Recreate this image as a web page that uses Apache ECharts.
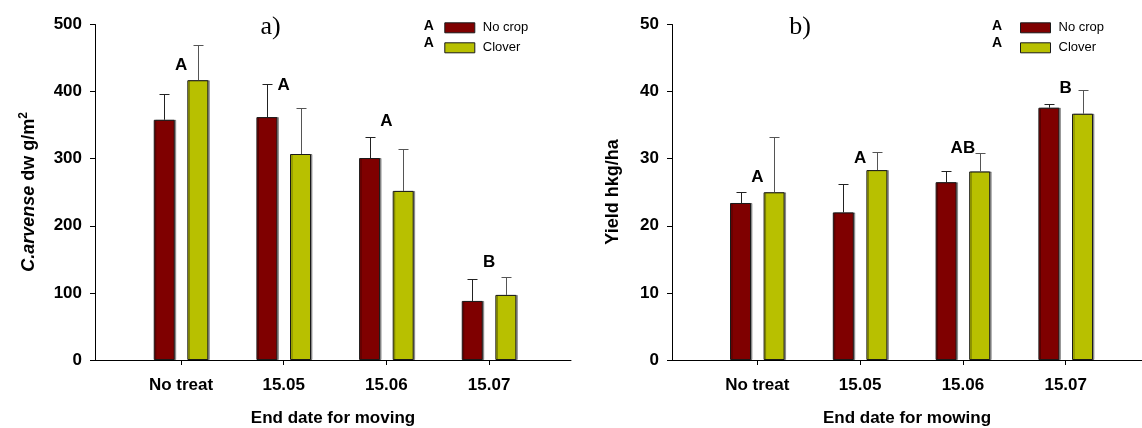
<!DOCTYPE html>
<html><head><meta charset="utf-8">
<script src="https://cdn.jsdelivr.net/npm/echarts@6/dist/echarts.min.js"></script>
<style>html,body{margin:0;padding:0;background:#fff}#c{width:1142px;height:428px}</style>
</head><body><div id="c"></div>
<script>
// ---------- data ----------
const categories = ['No treat', '15.05', '15.06', '15.07'];
const seriesNames = ['No crop', 'Clover'];
// chart a) C. arvense dw g/m2
const aNoCrop = [358, 362, 301, 88];
const aNoCropErr = [38, 49, 31, 32];
const aClover = [417, 307, 252, 97];
const aCloverErr = [53, 68, 63, 26];
const aLetters = ['A', 'A', 'A', 'B'];
const aLetterY = [439, 409, 355, 146];
const aTicks = [0, 100, 200, 300, 400, 500];
// chart b) Yield hkg/ha
const bNoCrop = [23.4, 22.0, 26.5, 37.6];
const bNoCropErr = [1.6, 4.2, 1.6, 0.5];
const bClover = [25.0, 28.3, 28.1, 36.7];
const bCloverErr = [8.3, 2.7, 2.8, 3.5];
const bLetters = ['A', 'A', 'AB', 'B'];
const bLetterY = [27.3, 30.0, 31.5, 40.5];
const bTicks = [0, 10, 20, 30, 40, 50];

// ---------- styles ----------
const FONT = 'Liberation Sans, Arial, sans-serif';
const RED = '#7f0000', OLIVE = '#b8c000';
const BAR_W = 21, BAR_GAP = 0.6;
const OFF = (BAR_W + BAR_W * BAR_GAP) / 2;
const TOP = 24.5, H = 335.5;

function errSeries(idx, means, errs, side, color) {
  return {
    type: 'custom', xAxisIndex: idx, yAxisIndex: idx, z: 5,
    data: means.map((m, i) => [i, m, m + errs[i]]),
    renderItem: function (params, api) {
      const b = api.coord([api.value(0), api.value(1)]);
      const t = api.coord([api.value(0), api.value(2)]);
      const x = Math.round(b[0] + side * OFF) + 0.5;
      const ty = Math.round(t[1]) + 0.5;
      const st = { stroke: color, lineWidth: 1 };
      return { type: 'group', children: [
        { type: 'line', shape: { x1: x, y1: b[1], x2: x, y2: ty }, style: st },
        { type: 'line', shape: { x1: x - 5, y1: ty, x2: x + 5, y2: ty }, style: st }
      ]};
    }
  };
}
function barSeries(idx, name, vals, color) {
  return {
    type: 'bar', name: name, xAxisIndex: idx, yAxisIndex: idx,
    barWidth: BAR_W, barGap: (BAR_GAP * 100) + '%',
    data: vals,
    itemStyle: { color: color, borderColor: '#1a1a1a', borderWidth: 1,
      shadowColor: 'rgba(0,0,0,0.35)', shadowOffsetX: 1.5, shadowBlur: 0 }
  };
}
function letterSeries(idx, ys, letters) {
  return {
    type: 'scatter', xAxisIndex: idx, yAxisIndex: idx, symbolSize: 0, z: 6,
    data: ys.map((y, i) => [i, y]),
    itemStyle: { opacity: 1 },
    label: { show: true, position: 'inside', formatter: p => letters[p.dataIndex],
      fontFamily: FONT, fontWeight: 'bold', fontSize: 17, color: '#000', opacity: 1 },
    silent: true
  };
}
function catAxis(idx) {
  return { type: 'category', gridIndex: idx, data: categories, boundaryGap: true,
    axisLine: { show: false },
    axisTick: { show: true, alignWithLabel: true, length: 5, lineStyle: { color: '#000' } },
    axisLabel: { margin: 17, fontFamily: FONT, fontWeight: 'bold', fontSize: 17, color: '#000' },
    splitLine: { show: false } };
}
function valAxis(idx, ticks, offset) {
  return { type: 'value', gridIndex: idx, min: ticks[0], max: ticks[ticks.length - 1],
    interval: ticks[1] - ticks[0], offset: offset,
    axisLine: { show: true, lineStyle: { color: '#000', width: 1 } },
    axisTick: { show: true, length: 5, lineStyle: { color: '#000' } },
    axisLabel: { margin: 13, fontFamily: FONT, fontWeight: 'bold', fontSize: 17, color: '#000' },
    splitLine: { show: false } };
}
function lineAxis(idx, name) {
  return { type: 'value', gridIndex: idx, min: 0, max: 1, position: 'bottom',
    axisLine: { show: true, onZero: false, lineStyle: { color: '#000', width: 1 } },
    axisTick: { show: false }, axisLabel: { show: false }, splitLine: { show: false },
    name: name, nameLocation: 'middle', nameGap: 50,
    nameTextStyle: { fontFamily: FONT, fontWeight: 'bold', fontSize: 17, color: '#000' } };
}
function hiddenY(idx) {
  return { type: 'value', gridIndex: idx, min: 0, max: 1, show: false,
    axisLine: { show: false }, axisTick: { show: false }, axisLabel: { show: false }, splitLine: { show: false } };
}
function legend(left) {
  return { show: true, data: seriesNames, orient: 'vertical', left: left, top: 21.3,
    icon: 'rect', itemWidth: 30, itemHeight: 10, itemGap: 7, padding: 0,
    itemStyle: { borderColor: '#1a1a1a', borderWidth: 1 },
    textStyle: { fontFamily: FONT, fontSize: 13, color: '#000', lineHeight: 10, padding: [0, 0, 0, 3] },
    selectedMode: false };
}
function grid(left, width) {
  return { left: left, width: width, top: TOP, height: H, containLabel: false, outerBoundsMode: 'none' };
}
const yTitleRich = {
  i: { fontFamily: FONT, fontWeight: 'bold', fontStyle: 'italic', fontSize: 18, lineHeight: 22, fill: '#000' },
  n: { fontFamily: FONT, fontWeight: 'bold', fontSize: 18, lineHeight: 22, fill: '#000' },
  s: { fontFamily: FONT, fontWeight: 'bold', fontSize: 12, lineHeight: 12, verticalAlign: 'top', fill: '#000' }
};

const option = {
  backgroundColor: '#fff',
  animation: false,
  legend: [legend(444.3), legend(1020)],
  grid: [grid(129.7, 410.7), grid(705.9, 411.2), grid(95, 476), grid(672, 470)],
  xAxis: [catAxis(0), catAxis(1), lineAxis(2, 'End date for moving'), lineAxis(3, 'End date for mowing')],
  yAxis: [valAxis(0, aTicks, 34.7), valAxis(1, bTicks, 33.9), hiddenY(2), hiddenY(3)],
  series: [
    barSeries(0, seriesNames[0], aNoCrop, RED),
    barSeries(0, seriesNames[1], aClover, OLIVE),
    errSeries(0, aNoCrop, aNoCropErr, -1, '#222'),
    errSeries(0, aClover, aCloverErr, 1, '#555'),
    letterSeries(0, aLetterY, aLetters),
    barSeries(1, seriesNames[0], bNoCrop, RED),
    barSeries(1, seriesNames[1], bClover, OLIVE),
    errSeries(1, bNoCrop, bNoCropErr, -1, '#222'),
    errSeries(1, bClover, bCloverErr, 1, '#555'),
    letterSeries(1, bLetterY, bLetters)
  ],
  graphic: [
    { type: 'text', x: 270.5, y: 27, style: { text: 'a)', fontFamily: 'Liberation Serif, serif', fontSize: 26, fill: '#000', textAlign: 'center', textVerticalAlign: 'middle' } },
    { type: 'text', x: 800, y: 27, style: { text: 'b)', fontFamily: 'Liberation Serif, serif', fontSize: 26, fill: '#000', textAlign: 'center', textVerticalAlign: 'middle' } },
    { type: 'text', x: 428.7, y: 26.3, style: { text: 'A', fontFamily: FONT, fontWeight: 'bold', fontSize: 14, fill: '#000', textAlign: 'center', textVerticalAlign: 'middle' } },
    { type: 'text', x: 428.7, y: 43.3, style: { text: 'A', fontFamily: FONT, fontWeight: 'bold', fontSize: 14, fill: '#000', textAlign: 'center', textVerticalAlign: 'middle' } },
    { type: 'text', x: 997, y: 26.3, style: { text: 'A', fontFamily: FONT, fontWeight: 'bold', fontSize: 14, fill: '#000', textAlign: 'center', textVerticalAlign: 'middle' } },
    { type: 'text', x: 997, y: 43.3, style: { text: 'A', fontFamily: FONT, fontWeight: 'bold', fontSize: 14, fill: '#000', textAlign: 'center', textVerticalAlign: 'middle' } },
    { type: 'text', x: 29, y: 192, rotation: Math.PI / 2,
      style: { text: '{i|C.arvense}{n| dw g/m}{s|2}', rich: yTitleRich, textAlign: 'center', textVerticalAlign: 'middle' } },
    { type: 'text', x: 613, y: 192, rotation: Math.PI / 2,
      style: { text: 'Yield hkg/ha', fontFamily: FONT, fontWeight: 'bold', fontSize: 18, fill: '#000', textAlign: 'center', textVerticalAlign: 'middle' } }
  ]
};
const chart = echarts.init(document.getElementById('c'), null, { renderer: 'canvas' });
chart.setOption(option);
</script></body></html>
